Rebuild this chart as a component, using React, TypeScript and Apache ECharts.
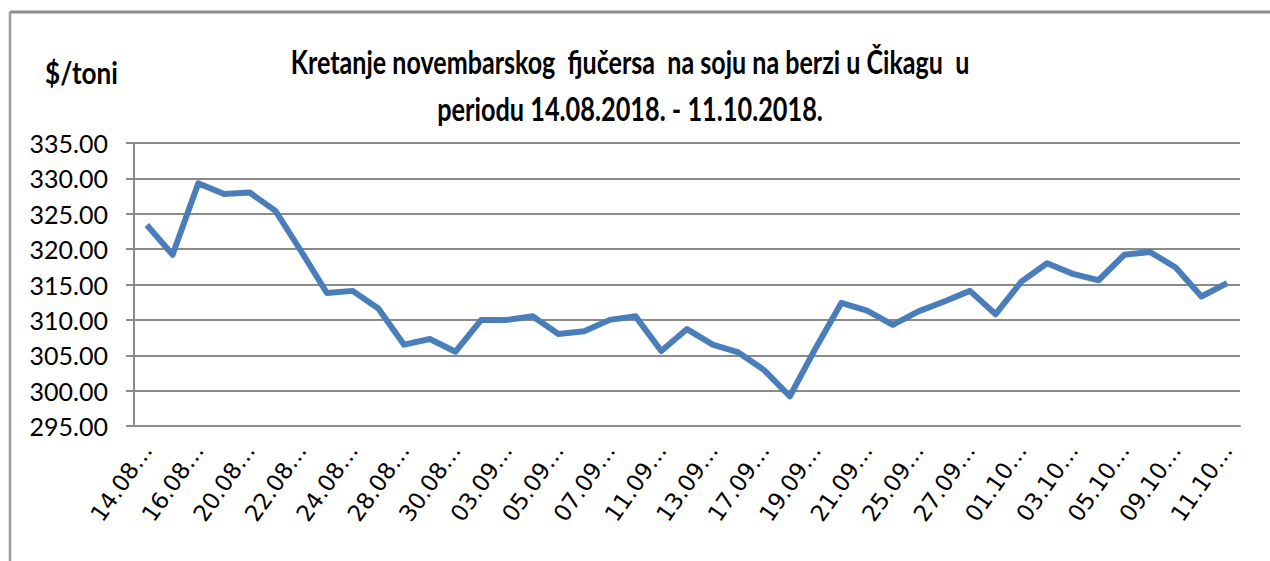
import React, { useEffect, useRef } from "react";
import * as echarts from "echarts";

const dates = [
  "14.08.2018.", "15.08.2018.", "16.08.2018.", "17.08.2018.", "20.08.2018.", "21.08.2018.",
  "22.08.2018.", "23.08.2018.", "24.08.2018.", "27.08.2018.", "28.08.2018.", "29.08.2018.",
  "30.08.2018.", "31.08.2018.", "03.09.2018.", "04.09.2018.", "05.09.2018.", "06.09.2018.",
  "07.09.2018.", "10.09.2018.", "11.09.2018.", "12.09.2018.", "13.09.2018.", "14.09.2018.",
  "17.09.2018.", "18.09.2018.", "19.09.2018.", "20.09.2018.", "21.09.2018.", "24.09.2018.",
  "25.09.2018.", "26.09.2018.", "27.09.2018.", "28.09.2018.", "01.10.2018.", "02.10.2018.",
  "03.10.2018.", "04.10.2018.", "05.10.2018.", "08.10.2018.", "09.10.2018.", "10.10.2018.",
  "11.10.2018.",
];

const prices = [
  323.4, 319.2, 329.3, 327.8, 328.0, 325.4,
  319.7, 313.8, 314.1, 311.6, 306.5, 307.3,
  305.5, 310.0, 310.0, 310.5, 308.0, 308.4,
  310.0, 310.5, 305.6, 308.7, 306.5, 305.4,
  302.9, 299.2, 306.0, 312.4, 311.3, 309.3,
  311.2, 312.6, 314.1, 310.8, 315.4, 318.0,
  316.5, 315.6, 319.2, 319.6, 317.4, 313.3,
  315.2,
];

const yMin = 295;
const yMax = 335;
const yStep = 5;

const titleLine1 = "Kretanje novembarskog  fjučersa  na soju na berzi u Čikagu  u";
const titleLine2 = "periodu 14.08.2018. - 11.10.2018.";
const unitLabel = "$/toni";

const headFont = "Lato, 'Open Sans', 'DejaVu Sans', sans-serif";

function measure(text: string, font: string): number {
  const c = document.createElement("canvas").getContext("2d");
  if (!c) return 1;
  c.font = font;
  return c.measureText(text).width || 1;
}

function squeezedText(text: string, cx: number, cy: number, size: number, targetW: number, align: "center" | "left") {
  const font = `bold ${size}px ${headFont}`;
  const w = measure(text, font);
  return {
    type: "text",
    x: cx,
    y: cy,
    scaleX: targetW / w,
    style: {
      text,
      x: 0,
      y: 0,
      fontFamily: headFont,
      fontWeight: "bold",
      fontSize: size,
      fill: "#000",
      textAlign: align,
      textVerticalAlign: "middle",
    },
  };
}

export default function App() {
  const ref = useRef<HTMLDivElement>(null);

  useEffect(() => {
    if (!ref.current) return;
    const chart = echarts.init(ref.current, undefined, { renderer: "svg" });
    chart.setOption({
      animation: false,
      backgroundColor: "#ffffff",
      graphic: [
        {
          type: "line",
          shape: { x1: 10, y1: 12, x2: 1270, y2: 12 },
          style: { stroke: "#8c8c8c", lineWidth: 3 },
        },
        {
          type: "line",
          shape: { x1: 10, y1: 12, x2: 10, y2: 561 },
          style: { stroke: "#9a9a9a", lineWidth: 2.5 },
        },
        squeezedText(titleLine1, 630, 62, 32, 679, "center"),
        squeezedText(titleLine2, 630, 109, 32, 386, "center"),
        squeezedText(unitLabel, 45, 72, 30, 73, "left"),
      ],
      grid: { left: 134, right: 30, top: 143, bottom: 135 },
      xAxis: {
        type: "category",
        data: dates,
        boundaryGap: true,
        axisLine: { show: true, lineStyle: { color: "#8a8a8a", width: 2 } },
        axisTick: { show: false },
        axisLabel: {
          interval: 1,
          rotate: 55,
          margin: 20,
          fontFamily: "'DejaVu Sans', Verdana, sans-serif",
          fontSize: 23,
          color: "#000",
          formatter: (v: string) => v.slice(0, 5) + "…",
        },
      },
      yAxis: {
        type: "value",
        min: yMin,
        max: yMax,
        interval: yStep,
        axisLine: { show: true, lineStyle: { color: "#8a8a8a", width: 2 } },
        axisTick: { show: true, length: 8, lineStyle: { color: "#8a8a8a", width: 2 } },
        splitLine: { show: true, lineStyle: { color: "#8a8a8a", width: 2 } },
        axisLabel: {
          margin: 26,
          fontFamily: headFont,
          fontSize: 25,
          color: "#000",
          formatter: (v: number) => v.toFixed(2),
        },
      },
      series: [
        {
          type: "line",
          data: prices,
          showSymbol: false,
          symbol: "none",
          lineStyle: { color: "#4A7EBB", width: 6, join: "round" },
          itemStyle: { color: "#4A7EBB" },
        },
      ],
    });
    return () => chart.dispose();
  }, []);

  return (
    <div
      ref={ref}
      style={{ position: "absolute", left: 0, top: 0, width: 1270, height: 561 }}
    />
  );
}
